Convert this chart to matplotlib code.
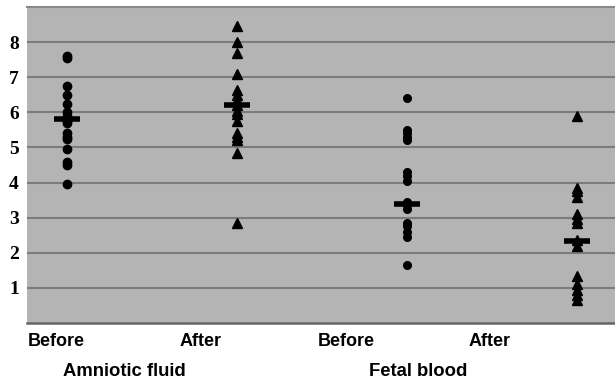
import matplotlib
matplotlib.use("Agg")
import matplotlib.pyplot as plt

# ---- data ----
categories = ["Before", "After", "Before", "After"]
groups = ["Amniotic fluid", "Fetal blood"]
af_before = [7.6, 7.55, 6.75, 6.5, 6.25, 6.0, 5.9, 5.75, 5.7, 5.4, 5.3, 5.25, 4.95, 4.6, 4.5, 3.95]
af_after = [8.45, 8.0, 7.7, 7.1, 6.65, 6.5, 6.35, 6.2, 6.05, 5.95, 5.75, 5.4, 5.3, 5.2, 4.85, 2.85]
fb_before = [6.4, 5.5, 5.4, 5.3, 5.2, 4.3, 4.2, 4.05, 3.45, 3.35, 3.25, 2.85, 2.75, 2.6, 2.45, 1.65]
fb_after = [5.9, 3.85, 3.75, 3.6, 3.1, 2.95, 2.85, 2.35, 2.2, 1.35, 1.1, 0.95, 0.8, 0.65]
means = [5.82, 6.2, 3.38, 2.33]
yticks = [1, 2, 3, 4, 5, 6, 7, 8]

series = [af_before, af_after, fb_before, fb_after]
markers = ["o", "^", "o", "^"]
msizes = [6, 7, 5.5, 7]

fig = plt.figure(figsize=(6.15, 3.82), dpi=100)
ax = fig.add_axes([0.044, 0.1545, 0.956, 0.827])
ax.set_facecolor("#b4b4b4")
ax.set_xlim(0.765, 4.225)
ax.set_ylim(0, 9)

for y in yticks:
    ax.axhline(y, color="#7c7c7c", lw=1.5, zorder=1)

for i, (vals, m, ms) in enumerate(zip(series, markers, msizes)):
    x = i + 1
    ax.plot([x] * len(vals), vals, linestyle="none", marker=m, ms=ms,
            color="black", zorder=3)
    ax.plot([x], [means[i]], linestyle="none", marker="_", ms=19, mew=4,
            color="black", zorder=4)

for s in ["left", "right"]:
    ax.spines[s].set_visible(False)
ax.spines["top"].set_color("#8a8a8a")
ax.spines["top"].set_linewidth(1.5)
ax.spines["bottom"].set_color("#666666")
ax.spines["bottom"].set_linewidth(1.8)

ax.set_xticks([])
ax.set_yticks(yticks)
ax.set_yticklabels([str(v) for v in yticks], fontfamily="Liberation Serif",
                   fontweight="bold", fontsize=14)
ax.tick_params(axis="y", length=0, pad=6)

cat_x = [56, 201, 346, 490]
for cx, lab in zip(cat_x, categories):
    fig.text(cx / 615, 1 - 341 / 382, lab, ha="center", va="center",
             fontfamily="Liberation Sans", fontweight="bold", fontsize=13)
grp_x = [124, 418]
for gx, lab in zip(grp_x, groups):
    fig.text(gx / 615, 1 - 372 / 382, lab, ha="center", va="center",
             fontfamily="Liberation Sans", fontweight="bold", fontsize=13.3)

fig.savefig("out.png", dpi=100, facecolor="white")
